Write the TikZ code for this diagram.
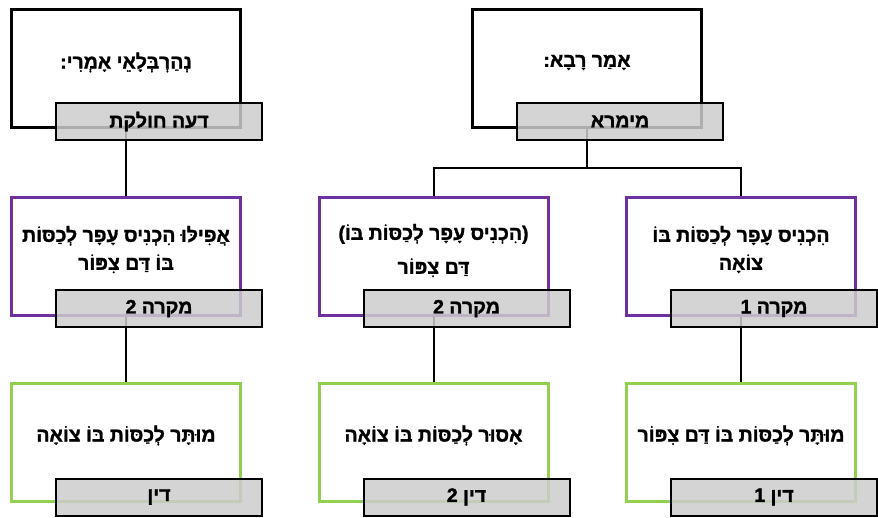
\documentclass[tikz,border=0pt]{standalone}
\usepackage{fontspec}
\usepackage{tikz}
\usetikzlibrary{positioning}
\TeXXeTstate=1
\newfontfamily\hebfont[Script=Hebrew, BoldFont={Liberation Sans Bold},
  BoldFeatures={FakeBold=1.5}]{Liberation Sans}
\definecolor{casepurple}{RGB}{112,48,160}
\definecolor{rulegreen}{RGB}{146,208,80}
\definecolor{taggray}{RGB}{204,204,204}

\begin{document}
\begin{tikzpicture}[x=1pt, y=-1pt,
    node distance=67pt and 75.5pt,
    frame/.style={rectangle, draw, line width=3pt,
      minimum width=229pt, minimum height=118pt},
    source/.style={frame, draw=black},
    case/.style={frame, draw=casepurple},
    ruling/.style={frame, draw=rulegreen},
    tag/.style={rectangle, draw=black, line width=2pt, fill=taggray,
      fill opacity=0.85, text opacity=1,
      minimum width=206pt, minimum height=37pt, inner sep=0pt,
      font=\hebfont\bfseries\fontsize{19.5}{22}\selectfont},
    txt/.style={align=center, inner sep=0pt,
      font=\hebfont\bfseries\fontsize{19.5}{28}\selectfont},
    link/.style={line width=2pt}
    ]
    \useasboundingbox (0,0) rectangle (878,517);

    % frames
    \node[source] (rava)  at (587,68.5)  {};
    \node[case]   (case1) at (741,256.5) {};
    \node[case]   (case2) [left=of case1] {};
    \node[case]   (case3) [left=of case2] {};
    \node[source] (nehar) [above=of case3] {};
    \node[ruling] (din1)  [below=65pt of case1] {};
    \node[ruling] (din2)  [below=65pt of case2] {};
    \node[ruling] (din3)  [below=65pt of case3] {};

    % connectors
    \coordinate (split) at ([yshift=-39pt]rava.south);
    \draw[link] (rava) -- (split);
    \draw[link] (case2.north) |- (split) -| (case1.north);
    \draw[link] (nehar) -- (case3);
    \draw[link] (case1) -- (din1);
    \draw[link] (case2) -- (din2);
    \draw[link] (case3) -- (din3);

    % texts
    \node[txt] (nehar-txt) at ([yshift=6pt]nehar.center) {\beginR נְהַרְבְּלָאֵי אָמְרִי:\endR};
    \node[txt] (rava-txt)  at ([yshift=6pt]rava.center)  {\beginR אָמַר רָבָא:\endR};
    \node[txt] (case1-txt) at ([yshift=7pt]case1.center) {\beginR הִכְנִיס עָפָר לְכַסּוֹת בּוֹ\endR\\ \beginR צוֹאָה\endR};
    \node[txt] (case2-txt) at ([yshift=6pt]case2.center) {\beginR (הִכְנִיס עָפָר לְכַסּוֹת בּוֹ)\endR\\[6pt] \beginR דַּם צִפּוֹר\endR};
    \node[txt] (case3-txt) at ([yshift=7pt]case3.center) {\beginR אֲפִילּוּ הִכְנִיס עָפָר לְכַסּוֹת\endR\\ \beginR בּוֹ דַּם צִפּוֹר\endR};
    \node[txt] (din1-txt)  at ([yshift=7pt]din1.center)  {\beginR מוּתָּר לְכַסּוֹת בּוֹ דַּם צִפּוֹר\endR};
    \node[txt] (din2-txt)  at ([yshift=7pt]din2.center)  {\beginR אָסוּר לְכַסּוֹת בּוֹ צוֹאָה\endR};
    \node[txt] (din3-txt)  at ([yshift=7pt]din3.center)  {\beginR מוּתָּר לְכַסּוֹת בּוֹ צוֹאָה\endR};

    % tags
    \node[tag] (nehar-tag) at ([xshift=33pt, yshift=-53pt]nehar.center) {\beginR דעה חולקת\endR};
    \node[tag] (rava-tag)  at ([xshift=33pt, yshift=-53pt]rava.center)  {\beginR מימרא\endR};
    \node[tag] (case1-tag) at ([xshift=33pt, yshift=-52pt]case1.center) {\beginR מקרה 1\endR};
    \node[tag] (case2-tag) at ([xshift=33pt, yshift=-52pt]case2.center) {\beginR מקרה 2\endR};
    \node[tag] (case3-tag) at ([xshift=33pt, yshift=-52pt]case3.center) {\beginR מקרה 2\endR};
    \node[tag] (din1-tag)  at ([xshift=33pt, yshift=-54.5pt]din1.center) {\beginR דין 1\endR};
    \node[tag] (din2-tag)  at ([xshift=33pt, yshift=-54.5pt]din2.center) {\beginR דין 2\endR};
    \node[tag] (din3-tag)  at ([xshift=33pt, yshift=-54.5pt]din3.center) {\beginR דין\endR};
\end{tikzpicture}
\end{document}
